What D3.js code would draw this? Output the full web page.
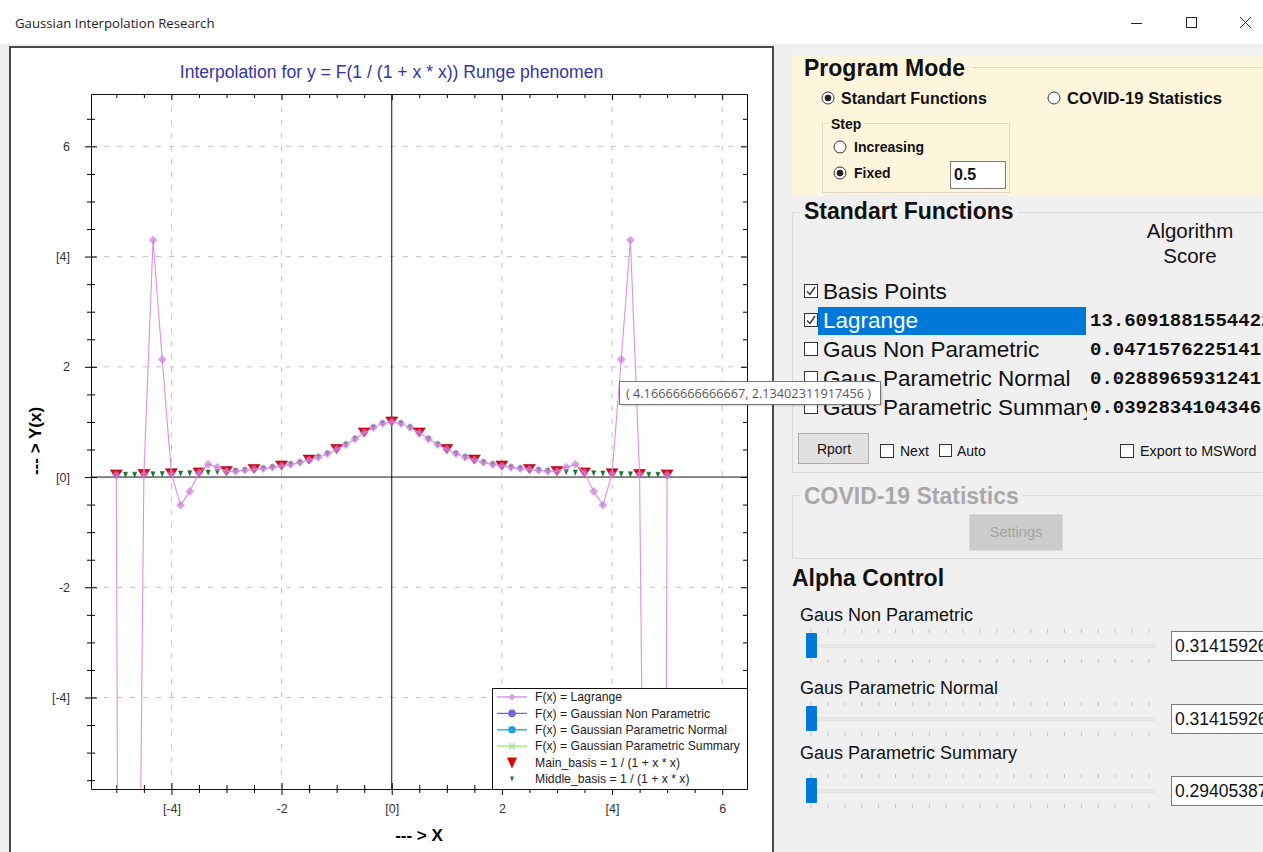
<!DOCTYPE html>
<html>
<head>
<meta charset="utf-8">
<style>
  body { margin: 0; background: #f0f0f0; }
  svg { display: block; }
  text { font-family: "Liberation Sans", Arial, sans-serif; }
</style>
</head>
<body>
<svg id="container" width="1263" height="852"></svg>
<script src="https://cdn.jsdelivr.net/npm/d3@7/dist/d3.min.js"></script>
<script>
// ---- data ----
const lagrangeX = [-5, -4.8333, -4.6667, -4.5, -4.3333, -4.1667, -4, -3.8333, -3.6667, -3.5, -3.3333, -3.1667,
  -3, -2.8333, -2.6667, -2.5, -2.3333, -2.1667, -2, -1.8333, -1.6667, -1.5, -1.3333, -1.1667, -1, -0.8333,
  -0.6667, -0.5, -0.3333, -0.1667, 0, 0.1667, 0.3333, 0.5, 0.6667, 0.8333, 1, 1.1667, 1.3333, 1.5, 1.6667,
  1.8333, 2, 2.1667, 2.3333, 2.5, 2.6667, 2.8333, 3, 3.1667, 3.3333, 3.5, 3.6667, 3.8333, 4, 4.1667, 4.3333,
  4.5, 4.6667, 4.8333, 5]
const lagrangeY = [0.0385, -48, -17, 0.0471, 4.30, 2.134, 0.0588, -0.51, -0.26, 0.0755, 0.23, 0.18,
  0.1, 0.105, 0.124, 0.1379, 0.153, 0.176, 0.2, 0.229, 0.265, 0.308, 0.36, 0.4235, 0.5, 0.59,
  0.692, 0.8, 0.9, 0.973, 1, 0.973, 0.9, 0.8, 0.692, 0.59, 0.5, 0.4235, 0.36, 0.308, 0.265,
  0.229, 0.2, 0.176, 0.153, 0.1379, 0.124, 0.105, 0.1, 0.18, 0.23, 0.0755, -0.26, -0.51, 0.0588, 2.134, 4.30,
  0.0471, -17, -48, 0.0385]

const mainBasisX = [-5, -4.5, -4, -3.5, -3, -2.5, -2, -1.5, -1, -0.5, 0, 0.5, 1, 1.5, 2, 2.5, 3, 3.5, 4, 4.5, 5]
const mainBasisY = [0.0385, 0.0471, 0.0588, 0.0755, 0.1, 0.1379, 0.2, 0.3077, 0.5, 0.8, 1, 0.8, 0.5, 0.3077,
  0.2, 0.1379, 0.1, 0.0755, 0.0588, 0.0471, 0.0385]

const middleBasisX = [-4.8333, -4.6667, -4.3333, -4.1667, -3.8333, -3.6667, -3.3333, -3.1667, -2.8333, -2.6667,
  -2.3333, -2.1667, -1.8333, -1.6667, -1.3333, -1.1667, -0.8333, -0.6667, -0.3333, -0.1667, 0.1667, 0.3333,
  0.6667, 0.8333, 1.1667, 1.3333, 1.6667, 1.8333, 2.1667, 2.3333, 2.6667, 2.8333, 3.1667, 3.3333, 3.6667,
  3.8333, 4.1667, 4.3333, 4.6667, 4.8333]
const middleBasisY = [0.041, 0.0439, 0.0506, 0.0545, 0.0637, 0.0692, 0.0826, 0.0907, 0.1108, 0.1233,
  0.1552, 0.1756, 0.2293, 0.2647, 0.36, 0.4235, 0.59, 0.692, 0.9, 0.973, 0.973, 0.9,
  0.692, 0.59, 0.4235, 0.36, 0.2647, 0.2293, 0.1756, 0.1552, 0.1233, 0.1108, 0.0907, 0.0826, 0.0692,
  0.0637, 0.0545, 0.0506, 0.0439, 0.041]

const majorTicks = [-4, -2, 0, 2, 4, 6]
const xTickLabels = ["[-4]", "-2", "[0]", "2", "[4]", "6"]
const yTickLabels = ["[-4]", "-2", "[0]", "2", "[4]", "6"]

const legendNames = ["F(x) = Lagrange", "F(x) = Gaussian Non Parametric", "F(x) = Gaussian Parametric Normal",
  "F(x) = Gaussian Parametric Summary", "Main_basis = 1 / (1 + x * x)", "Middle_basis = 1 / (1 + x * x)"]
const legendColors = ["#d98ad9", "#7a62d8", "#1fa3dc", "#a6e07e", "#dd0000", "#137a2e"]

const functionNames = ["Basis Points", "Lagrange", "Gaus Non Parametric", "Gaus Parametric Normal", "Gaus Parametric Summary"]
const functionChecked = [true, true, false, false, false]
const scoreValues = ["", "13.6091881554422", "0.0471576225141", "0.0288965931241", "0.0392834104346"]

const alphaNames = ["Gaus Non Parametric", "Gaus Parametric Normal", "Gaus Parametric Summary"]
const alphaValues = ["0.3141592653", "0.3141592653", "0.2940538712"]

// ---- page ----
const svg = d3.select("#container")
const font = "'Liberation Sans', Arial, sans-serif"

svg.append("rect").attr("width", 1263).attr("height", 852).attr("fill", "#f0f0f0")
svg.append("rect").attr("width", 1263).attr("height", 44).attr("fill", "#ffffff")
svg.append("text").attr("x", 15).attr("y", 28).attr("font-size", 13.2).attr("fill", "#222")
  .style("font-family", "'Open Sans', sans-serif").text("Gaussian Interpolation Research")

// window buttons
svg.append("line").attr("x1", 1131).attr("x2", 1142).attr("y1", 23.5).attr("y2", 23.5).attr("stroke", "#222")
svg.append("rect").attr("x", 1186.5).attr("y", 17.5).attr("width", 10).attr("height", 10)
  .attr("fill", "none").attr("stroke", "#222")
svg.append("path").attr("d", "M1240,17 L1251,28 M1251,17 L1240,28").attr("stroke", "#222")

// ---- chart ----
svg.append("rect").attr("x", 10).attr("y", 47).attr("width", 763).attr("height", 820)
  .attr("fill", "#ffffff").attr("stroke", "#4a4a4a").attr("stroke-width", 2)

svg.append("text").attr("x", 391.5).attr("y", 78).attr("text-anchor", "middle")
  .attr("font-size", 17.6).attr("fill", "#3434a6")
  .text("Interpolation for y = F(1 / (1 + x * x)) Runge phenomen")

const plot = { left: 91, right: 747, top: 94, bottom: 789 }
const x = d3.scaleLinear().domain([-5.46, 6.45]).range([plot.left, plot.right])
const y = d3.scaleLinear().domain([-5.66, 6.95]).range([plot.bottom, plot.top])

const minorX = d3.range(-5, 6.5, 0.5)
const minorY = d3.range(-5.5, 7, 0.5)

const chart = svg.append("g")

// grid
chart.selectAll(".gx").data(majorTicks.filter(d => d !== 0)).enter().append("line")
  .attr("x1", d => x(d)).attr("x2", d => x(d)).attr("y1", plot.top).attr("y2", plot.bottom)
  .attr("stroke", "#c2c2c2").attr("stroke-dasharray", "5,8")
chart.selectAll(".gy").data(majorTicks.filter(d => d !== 0)).enter().append("line")
  .attr("x1", plot.left).attr("x2", plot.right).attr("y1", d => y(d)).attr("y2", d => y(d))
  .attr("stroke", "#c2c2c2").attr("stroke-dasharray", "5,8")

// zero lines
chart.append("line").attr("x1", x(0)).attr("x2", x(0)).attr("y1", plot.top).attr("y2", plot.bottom)
  .attr("stroke", "#111")
chart.append("line").attr("x1", plot.left).attr("x2", plot.right).attr("y1", y(0)).attr("y2", y(0))
  .attr("stroke", "#111")

// axes
const xAxis = chart.append("g").attr("transform", `translate(0,${plot.bottom})`)
  .call(d3.axisBottom(x).tickValues(majorTicks).tickFormat((d, i) => xTickLabels[i]).tickSizeOuter(0))
xAxis.selectAll(".tick line").attr("y1", -6).attr("y2", 6)
xAxis.selectAll(".tick text").attr("y", 15).attr("font-size", 12.5).attr("fill", "#333").style("font-family", font)
const xMinor = chart.append("g").attr("transform", `translate(0,${plot.bottom})`)
  .call(d3.axisBottom(x).tickValues(minorX.filter(d => !majorTicks.includes(d))).tickFormat("").tickSizeOuter(0))
xMinor.selectAll(".tick line").attr("y1", -4).attr("y2", 4)
xMinor.select(".domain").remove()

const yAxis = chart.append("g").attr("transform", `translate(${plot.left},0)`)
  .call(d3.axisLeft(y).tickValues(majorTicks).tickFormat((d, i) => yTickLabels[i]).tickSizeOuter(0))
yAxis.selectAll(".tick line").attr("x1", 6).attr("x2", -6)
yAxis.selectAll(".tick text").attr("x", -21).attr("font-size", 12.5).attr("fill", "#333").style("font-family", font)
const yMinor = chart.append("g").attr("transform", `translate(${plot.left},0)`)
  .call(d3.axisLeft(y).tickValues(minorY.filter(d => !majorTicks.includes(d))).tickFormat("").tickSizeOuter(0))
yMinor.selectAll(".tick line").attr("x1", 4).attr("x2", -4)
yMinor.select(".domain").remove()

// mirrored ticks on top and right
const xTop = chart.append("g").attr("transform", `translate(0,${plot.top})`)
  .call(d3.axisTop(x).tickValues(minorX).tickFormat("").tickSizeOuter(0))
xTop.selectAll(".tick line").attr("y1", 0).attr("y2", d => majorTicks.includes(d) ? 6 : 4)
const yRight = chart.append("g").attr("transform", `translate(${plot.right},0)`)
  .call(d3.axisRight(y).tickValues(minorY).tickFormat("").tickSizeOuter(0))
yRight.selectAll(".tick line").attr("x1", 0).attr("x2", d => majorTicks.includes(d) ? -6 : -4)
chart.selectAll(".domain").attr("stroke", "#111")

// axis titles
svg.append("text").attr("x", 419).attr("y", 841).attr("text-anchor", "middle")
  .attr("font-size", 17).attr("font-weight", "bold").text("--- > X")
svg.append("text").attr("transform", "translate(41,441) rotate(-90)").attr("text-anchor", "middle")
  .attr("font-size", 17).attr("font-weight", "bold").text("--- > Y(x)")

// series
svg.append("clipPath").attr("id", "plotclip").append("rect")
  .attr("x", plot.left).attr("y", plot.top).attr("width", plot.right - plot.left).attr("height", plot.bottom - plot.top)
const series = svg.append("g").attr("clip-path", "url(#plotclip)")

const main = mainBasisX.map((v, i) => [v, mainBasisY[i]])
series.selectAll(".mb").data(main).enter().append("path")
  .attr("d", "M-6,-4 L6,-4 L0,5 Z")
  .attr("transform", d => `translate(${x(d[0])},${y(d[1]) - 1})`)
  .attr("fill", "#dd0a1e").attr("stroke", "#9a0010").attr("stroke-width", 0.6)

const middle = middleBasisX.map((v, i) => [v, middleBasisY[i]])
series.selectAll(".md").data(middle).enter().append("path")
  .attr("d", "M-2,-2.5 L2,-2.5 L0,2.5 Z")
  .attr("transform", d => `translate(${x(d[0])},${y(d[1])})`)
  .attr("fill", "#137a2e").attr("stroke", "#0b5a1e").attr("stroke-width", 0.5)

const lag = lagrangeX.map((v, i) => [v, lagrangeY[i]])
series.append("path").datum(lag)
  .attr("d", d3.line().x(d => x(d[0])).y(d => y(d[1])))
  .attr("fill", "none").attr("stroke", "#dd92dd").attr("stroke-width", 1.1)
series.selectAll(".lg").data(lag).enter().append("path")
  .attr("d", "M0,-4.4 L4.4,0 L0,4.4 L-4.4,0 Z")
  .attr("transform", d => `translate(${x(d[0])},${y(d[1])})`)
  .attr("fill", "#c77ddb").attr("fill-opacity", 0.7)

// legend
const legend = svg.append("g").attr("transform", "translate(492,688)")
legend.append("rect").attr("x", 0.5).attr("y", 0.5).attr("width", 255).attr("height", 101)
  .attr("fill", "#fff").attr("stroke", "#111")
legendNames.forEach((name, i) => {
  const cy = 9 + i * 16.4
  const c = legendColors[i]
  const g = legend.append("g")
  if (i < 4) g.append("line").attr("x1", 5).attr("x2", 35).attr("y1", cy).attr("y2", cy).attr("stroke", c).attr("stroke-width", 1.3)
  if (i === 0) g.append("path").attr("d", "M0,-3.5 L3.5,0 L0,3.5 L-3.5,0 Z").attr("transform", `translate(20,${cy})`).attr("fill", "#d9a0e6")
  if (i === 1 || i === 2) g.append("circle").attr("cx", 20).attr("cy", cy).attr("r", 3.8).attr("fill", c)
  if (i === 3) g.append("path").attr("d", "M-3,-3 L3,3 M3,-3 L-3,3").attr("transform", `translate(20,${cy})`).attr("stroke", c).attr("stroke-width", 1.3)
  if (i === 4) g.append("path").attr("d", "M-5,-5 L5,-5 L0,6 Z").attr("transform", `translate(20,${cy})`).attr("fill", c)
  if (i === 5) g.append("path").attr("d", "M-2,-2.5 L2,-2.5 L0,2.5 Z").attr("transform", `translate(20,${cy})`).attr("fill", c)
  g.append("text").attr("x", 43).attr("y", cy + 4.2).attr("font-size", 12.2).attr("fill", "#222").text(name)
})

// ---- right panel ----
const ui = svg.append("g")

function radio(cx, cy, on) {
  ui.append("circle").attr("cx", cx).attr("cy", cy).attr("r", 6).attr("fill", "#fff").attr("stroke", "#333")
  if (on) ui.append("circle").attr("cx", cx).attr("cy", cy).attr("r", 3.3).attr("fill", "#222")
}
function checkbox(x0, y0, on, size) {
  ui.append("rect").attr("x", x0 + 0.5).attr("y", y0 + 0.5).attr("width", size).attr("height", size)
    .attr("fill", "#fff").attr("stroke", "#333")
  if (on) ui.append("path").attr("d", `M${x0 + 3},${y0 + size / 2 + 1} L${x0 + size / 2 - 0.5},${y0 + size - 2.5} L${x0 + size - 2},${y0 + 3}`)
    .attr("fill", "none").attr("stroke", "#333").attr("stroke-width", 1.4)
}
function textbox(x0, y0, w, h, txt, size, bold) {
  ui.append("rect").attr("x", x0 + 0.5).attr("y", y0 + 0.5).attr("width", w).attr("height", h)
    .attr("fill", "#fff").attr("stroke", "#7a7a7a")
  ui.append("text").attr("x", x0 + 4).attr("y", y0 + h / 2 + size * 0.36).attr("font-size", size)
    .attr("font-weight", bold ? "bold" : "normal").attr("fill", "#111").text(txt)
}

// Program Mode group
ui.append("rect").attr("x", 792).attr("y", 55).attr("width", 480).attr("height", 141).attr("fill", "#fdf5dc")
ui.append("line").attr("x1", 972).attr("x2", 1263).attr("y1", 67.5).attr("y2", 67.5).attr("stroke", "#e0dccb")
ui.append("text").attr("x", 804).attr("y", 76).attr("font-size", 23).attr("font-weight", "bold").attr("fill", "#111").text("Program Mode")
radio(828, 98, true)
ui.append("text").attr("x", 841).attr("y", 104).attr("font-size", 16).attr("font-weight", "bold").attr("fill", "#111").text("Standart Functions")
radio(1054, 98, false)
ui.append("text").attr("x", 1067).attr("y", 104).attr("font-size", 16.6).attr("font-weight", "bold").attr("fill", "#111").text("COVID-19 Statistics")
ui.append("rect").attr("x", 822.5).attr("y", 123.5).attr("width", 187).attr("height", 69).attr("fill", "none").attr("stroke", "#ddd8c8")
ui.append("rect").attr("x", 828).attr("y", 117).attr("width", 36).attr("height", 12).attr("fill", "#fdf5dc")
ui.append("text").attr("x", 831).attr("y", 129).attr("font-size", 14).attr("font-weight", "bold").attr("fill", "#111").text("Step")
radio(840, 147, false)
ui.append("text").attr("x", 854).attr("y", 152).attr("font-size", 14).attr("font-weight", "bold").attr("fill", "#111").text("Increasing")
radio(840, 173, true)
ui.append("text").attr("x", 854).attr("y", 178).attr("font-size", 14).attr("font-weight", "bold").attr("fill", "#111").text("Fixed")
textbox(950, 161, 55, 27, "0.5", 16, true)

// Standart Functions group
ui.append("rect").attr("x", 792.5).attr("y", 212.5).attr("width", 480).attr("height", 260).attr("fill", "none").attr("stroke", "#d8d8d8")
ui.append("rect").attr("x", 800).attr("y", 200).attr("width", 218).attr("height", 22).attr("fill", "#f0f0f0")
ui.append("text").attr("x", 804).attr("y", 219).attr("font-size", 23).attr("font-weight", "bold").attr("fill", "#111").text("Standart Functions")
ui.append("text").attr("x", 1190).attr("y", 238).attr("text-anchor", "middle").attr("font-size", 20.5).attr("fill", "#111").text("Algorithm")
ui.append("text").attr("x", 1190).attr("y", 263).attr("text-anchor", "middle").attr("font-size", 20.5).attr("fill", "#111").text("Score")

ui.append("clipPath").attr("id", "labelclip").append("rect").attr("x", 790).attr("y", 270).attr("width", 297).attr("height", 160)
ui.append("rect").attr("x", 818).attr("y", 307).attr("width", 268).attr("height", 28).attr("fill", "#0078d7")
const labels = ui.append("g").attr("clip-path", "url(#labelclip)")
functionNames.forEach((name, i) => {
  const cy = 291 + i * 29
  checkbox(804, cy - 7, functionChecked[i], 13)
  labels.append("text").attr("x", 823).attr("y", cy + 7.5).attr("font-size", 22.5)
    .attr("fill", i === 1 ? "#fff" : "#111").text(name)
  ui.append("text").attr("x", 1090).attr("y", cy + 6).attr("font-size", 19).attr("font-weight", "bold")
    .style("font-family", "'Liberation Mono', 'Courier New', monospace").attr("fill", "#111").text(scoreValues[i])
})

ui.append("rect").attr("x", 798.5).attr("y", 433.5).attr("width", 70).attr("height", 30).attr("fill", "#e1e1e1").attr("stroke", "#adadad")
ui.append("text").attr("x", 834).attr("y", 454).attr("text-anchor", "middle").attr("font-size", 14).attr("fill", "#111").text("Rport")
checkbox(880, 444, false, 13)
ui.append("text").attr("x", 900).attr("y", 456).attr("font-size", 14).attr("fill", "#111").text("Next")
checkbox(939, 444, false, 12)
ui.append("text").attr("x", 957).attr("y", 456).attr("font-size", 14).attr("fill", "#111").text("Auto")
checkbox(1120, 444, false, 13)
ui.append("text").attr("x", 1140).attr("y", 456).attr("font-size", 14.3).attr("fill", "#111").text("Export to MSWord")

// COVID-19 group (disabled)
ui.append("rect").attr("x", 792.5).attr("y", 495.5).attr("width", 480).attr("height", 63).attr("fill", "none").attr("stroke", "#dcdcdc")
ui.append("rect").attr("x", 800).attr("y", 484).attr("width", 222).attr("height", 22).attr("fill", "#f0f0f0")
ui.append("text").attr("x", 804).attr("y", 504).attr("font-size", 23).attr("font-weight", "bold").attr("fill", "#a9a9a9").text("COVID-19 Statistics")
ui.append("rect").attr("x", 970).attr("y", 515).attr("width", 92).attr("height", 35).attr("fill", "#cccccc").attr("stroke", "#c4c4c4")
ui.append("text").attr("x", 1016).attr("y", 537).attr("text-anchor", "middle").attr("font-size", 14.5).attr("fill", "#a3a3a3").text("Settings")

// Alpha Control
ui.append("text").attr("x", 792).attr("y", 586).attr("font-size", 23).attr("font-weight", "bold").attr("fill", "#111").text("Alpha Control")
const sliderTicks = d3.range(0, 21)
const sx = d3.scaleLinear().domain([0, 20]).range([811, 1149])
alphaNames.forEach((name, i) => {
  const labelY = [614, 687, 752][i]
  const trackY = [646, 719, 791][i]
  ui.append("text").attr("x", 800).attr("y", labelY + 6.5).attr("font-size", 18).attr("fill", "#111").text(name)
  ui.append("rect").attr("x", 806).attr("y", trackY - 1.5).attr("width", 349).attr("height", 3).attr("fill", "#e7e7e7").attr("stroke", "#dadada").attr("stroke-width", 0.5)
  ui.selectAll(null).data(sliderTicks).enter().append("line")
    .attr("x1", d => sx(d)).attr("x2", d => sx(d)).attr("y1", trackY - 17).attr("y2", trackY - 13).attr("stroke", "#c4c4c4")
  ui.selectAll(null).data(sliderTicks).enter().append("line")
    .attr("x1", d => sx(d)).attr("x2", d => sx(d)).attr("y1", trackY + 13).attr("y2", trackY + 17).attr("stroke", "#c4c4c4")
  ui.append("rect").attr("x", 806).attr("y", trackY - 13).attr("width", 11).attr("height", 25).attr("rx", 1).attr("fill", "#0078d7")
  textbox(1171, trackY - 15, 100, 29, alphaValues[i], 17.5, false)
})

// tooltip
svg.append("rect").attr("x", 621.5).attr("y", 383.5).attr("width", 261).attr("height", 23).attr("fill", "#000").attr("opacity", 0.12)
svg.append("rect").attr("x", 619.5).attr("y", 381.5).attr("width", 261).attr("height", 23).attr("fill", "#fff").attr("stroke", "#767676")
svg.append("text").attr("x", 626).attr("y", 397.5).attr("font-size", 12.7).attr("fill", "#575757")
  .style("font-family", "'Open Sans', sans-serif").text("( 4.16666666666667, 2.13402311917456 )")
</script>
</body>
</html>
